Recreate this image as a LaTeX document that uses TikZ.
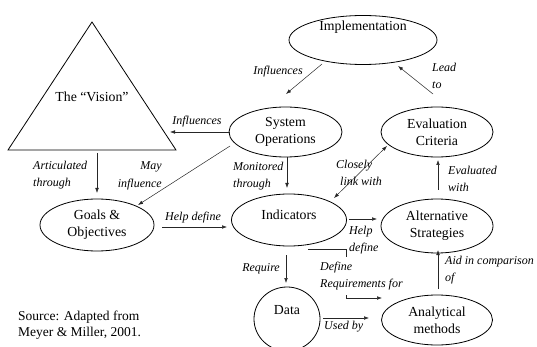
\documentclass[tikz,border=0pt]{standalone}
\usepackage{fontspec}
\setmainfont{Liberation Serif}
\usetikzlibrary{shapes.geometric,arrows.meta,positioning}

\tikzset{
  plain/.style={font=\fontsize{13.8}{17}\selectfont, inner sep=0pt, align=center},
  bubble/.style={draw, ellipse, line width=0.8pt, inner sep=0pt, plain},
  rel/.style={font=\fontsize{12}{17.5}\selectfont\itshape, inner sep=0pt, align=left},
  link/.style={-{Latex[length=5pt,width=3.6pt]}, line width=0.5pt, black!85},
}

\begin{document}
\begin{tikzpicture}[x=1pt,y=-1pt]
\useasboundingbox (0,0) rectangle (537,347);

\draw[line width=0.8pt] (92,22) -- (176,150) -- (8,150) -- cycle;
\node[plain] (vision) at (92,97) {The “Vision”};

\node[bubble, minimum width=148pt, minimum height=49pt,
  label={[plain, yshift=13pt]center:Implementation}] (impl) at (363,40) {};
\node[bubble, minimum width=113pt, minimum height=50pt] (sysop) at (285.5,132) {System\\Operations};
\node[bubble, minimum width=112pt, minimum height=50pt] (eval) at (437,132) {Evaluation\\Criteria};
\node[bubble, minimum width=114pt, minimum height=52pt] (goals) at (97,225) {Goals \&\\Objectives};
\node[bubble, minimum width=115pt, minimum height=52pt,
  label={[plain, yshift=5pt]center:Indicators}] (ind) at (289,220) {};
\node[bubble, minimum width=112pt, minimum height=54pt] (alt) at (437,226) {Alternative\\Strategies};
\node[bubble, minimum width=66pt, minimum height=64pt,
  label={[plain, yshift=9pt]center:Data}] (data) at (287,319) {};
\node[bubble, minimum width=111pt, minimum height=50pt] (anal) at (437,320) {Analytical\\methods};

\coordinate (implout) at (322,64);   \coordinate (sysopin) at (286,94);
\coordinate (evalout) at (433,94);   \coordinate (implin) at (398,66);
\coordinate (sysopl) at (230,132);   \coordinate (visionin) at (170,132);
\coordinate (visionout) at (97,153); \coordinate (goalsin) at (97,193);
\coordinate (sysopsw) at (230,146);  \coordinate (goalsne) at (138,205);
\coordinate (sysops) at (287,157);   \coordinate (indin) at (287,188);
\coordinate (indne) at (334,198);    \coordinate (evalsw) at (387,146);
\coordinate (altout) at (438,190);   \coordinate (evalin) at (438,160);
\coordinate (goalsout) at (162,227); \coordinate (indw) at (227,227);
\coordinate (inde) at (349,219);     \coordinate (altin) at (377,219);
\coordinate (indse) at (308,249);    \coordinate (analin) at (382,298);
\coordinate (inds) at (286,255);     \coordinate (datain) at (286,283);
\coordinate (dataout) at (323,318);  \coordinate (analw) at (369,318);
\coordinate (analout) at (438,289);  \coordinate (altin2) at (438,250);

\draw[link] (implout) -- (sysopin);
\draw[link] (evalout) -- (implin);
\draw[link] (sysopl) -- (visionin);
\draw[link] (visionout) -- (goalsin);
\draw[link] (sysopsw) -- (goalsne);
\draw[link] (sysops) -- (indin);
\draw[link, {Latex[length=5pt,width=3.6pt]}-{Latex[length=5pt,width=3.6pt]}] (indne) -- (evalsw);
\draw[link] (altout) -- (evalin);
\draw[link] (goalsout) -- (indw);
\draw[link] (inde) -- (altin);
\draw[link] (indse) -- (346,249) -- (346,298) -- (analin);
\draw[link] (inds) -- (datain);
\draw[link] (dataout) -- (analw);
\draw[link] (analout) -- (altin2);

\node[rel, align=center] (inflimpl) at (278,72) {Influences};
\node[rel, anchor=west] (leadto) at (432,76) {Lead\\to};
\node[rel, align=center] (inflvision) at (197,122) {Influences};
\node[rel, anchor=west] (articulated) at (33,175) {Articulated\\through};
\node[rel, anchor=east, align=right] (mayinfl) at (162,176) {May\\influence};
\node[rel, anchor=west] (monitored) at (233,176) {Monitored\\through};
\node[rel, anchor=west] (closely) at (336,173) {Closely\\\hspace{4pt}link with};
\node[rel, anchor=west] (evaluated) at (448,179) {Evaluated\\with};
\node[rel, align=center] (helpgoals) at (193,218) {Help define};
\node[rel, anchor=west] (helpalt) at (349,240) {Help\\define};
\node[rel, anchor=west, fill=white, inner ysep=5pt] (definereq) at (320,276) {Define\\Requirements for};
\node[rel, anchor=east, align=right] (require) at (280,269) {Require};
\node[rel, anchor=west] (usedby) at (324,327) {Used by};
\node[rel, anchor=west] (aid) at (445,270) {Aid in comparison\\of};
\node[plain, anchor=west, align=left, font=\fontsize{13.5}{16}\selectfont] (source) at (18,325)
  {Source: Adapted from\\Meyer \& Miller, 2001.};
\end{tikzpicture}
\end{document}
